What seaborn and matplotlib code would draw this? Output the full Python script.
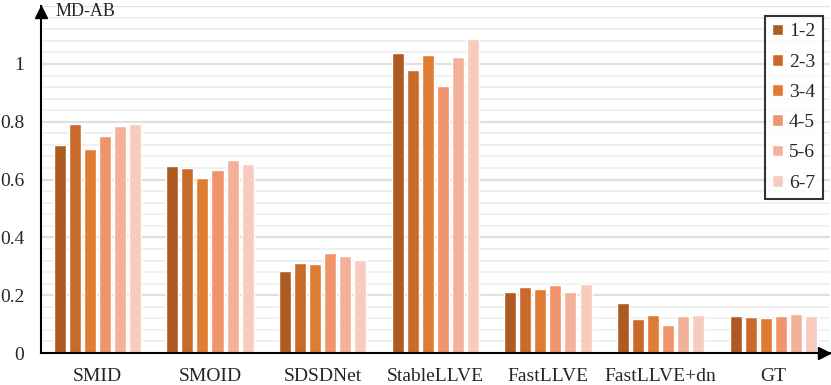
import pandas as pd
import seaborn as sns
import matplotlib.pyplot as plt
import numpy as np

# Data
methods = ['SMID', 'SMOID', 'SDSDNet', 'StableLLVE', 'FastLLVE', 'FastLLVE+dn', 'GT']
frames = ['1-2', '2-3', '3-4', '4-5', '5-6', '6-7']
smid = [0.721, 0.791, 0.707, 0.750, 0.785, 0.792]
smoid = [0.647, 0.639, 0.606, 0.632, 0.668, 0.653]
sdsdnet = [0.285, 0.311, 0.308, 0.347, 0.337, 0.321]
stablellve = [1.037, 0.980, 1.032, 0.925, 1.025, 1.087]
fastllve = [0.212, 0.228, 0.221, 0.235, 0.212, 0.239]
fastllve_dn = [0.172, 0.117, 0.130, 0.096, 0.128, 0.133]
gt = [0.128, 0.125, 0.122, 0.128, 0.135, 0.128]
yticks = [0, 0.2, 0.4, 0.6, 0.8, 1]
ytick_labels = ['0', '0.2', '0.4', '0.6', '0.8', '1']

colors = ['#AE5A23', '#C96A2B', '#E07B32', '#F0956B', '#F3B19A', '#F7CBBE']

values = [smid, smoid, sdsdnet, stablellve, fastllve, fastllve_dn, gt]
rows = []
for m, vals in zip(methods, values):
    for f, v in zip(frames, vals):
        rows.append({'method': m, 'frames': f, 'value': v})
df = pd.DataFrame(rows)

sns.set_style('white')
plt.rcParams['font.family'] = ['Liberation Serif', 'DejaVu Serif']

fig = plt.figure(figsize=(8.31, 3.85), dpi=100)
ax = fig.add_axes([41 / 831, 32 / 385, 788.6 / 831, 346.8 / 385])

# grid: major every 0.2, minor every 0.04
for y in np.arange(0.04, 1.21, 0.04):
    major = abs(round(y / 0.2) * 0.2 - y) < 1e-6
    ax.axhline(y, color='#e0e0e0' if major else '#eeeeee',
               lw=1.6 if major else 1.2, zorder=0)

sns.barplot(data=df, x='method', y='value', hue='frames', order=methods,
            hue_order=frames, palette=colors, width=0.8, gap=0.2,
            saturation=1, ax=ax, zorder=2)

ax.set_xlim(-0.5, 6.5)
ax.set_ylim(0, 1.2)
ax.set_yticks(yticks)
ax.set_yticklabels(ytick_labels)
ax.set_xlabel('')
ax.set_ylabel('')
ax.tick_params(axis='y', length=0, pad=12, labelsize=14)
ax.tick_params(axis='x', length=0, pad=11, labelsize=14)
for s in ['top', 'right']:
    ax.spines[s].set_visible(False)
for s in ['left', 'bottom']:
    ax.spines[s].set_color('black')
    ax.spines[s].set_linewidth(1.5)

# arrow heads on the axes
ax.plot(0.993, 0, '>', color='black', ms=8, transform=ax.transAxes, clip_on=False, zorder=5)
ax.plot(0, 0.983, '^', color='black', ms=8, transform=ax.transAxes, clip_on=False, zorder=5)

fig.text(56 / 831, 1 - 12 / 385, 'MD-AB', fontsize=13, va='center', ha='left')

leg = ax.legend(loc='upper right', bbox_to_anchor=(823 / 831, 1 - 15.7 / 385),
                bbox_transform=fig.transFigure, fontsize=14, frameon=True,
                fancybox=False, handlelength=0.55, handleheight=0.55,
                handletextpad=0.3, labelspacing=0.68, borderpad=0.4,
                borderaxespad=0)
leg.get_frame().set_edgecolor('black')
leg.get_frame().set_linewidth(1.5)

fig.savefig('out.png', dpi=100)
